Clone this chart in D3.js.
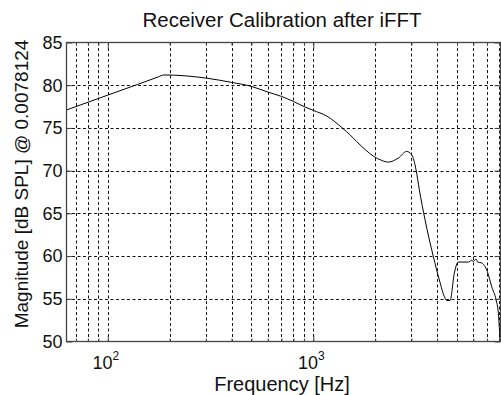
<!DOCTYPE html>
<html>
<head>
<meta charset="utf-8">
<script src="https://cdn.jsdelivr.net/npm/d3@7"></script>
<style>
  html, body { margin: 0; padding: 0; background: #fff; }
  svg { display: block; font-family: "Liberation Sans", Arial, Helvetica, sans-serif; }
</style>
</head>
<body>
<svg id="chart" width="501" height="395"></svg>
<script>
// ---- data ----
const freqHz = [63, 100, 140, 175, 187.5, 300, 400, 500, 600, 700, 800, 910, 1000, 1160, 1390, 1507, 1626, 1800, 1958, 2150, 2317, 2592, 2845, 3010, 3160, 3278, 3494, 3835, 4102, 4371, 4456, 4624, 4852, 5070, 5673, 5894, 6000, 6185, 6300, 6592, 7020, 7375, 7739, 7943, 8137];
const magDb  = [77.1, 78.84, 80.1, 80.95, 81.2, 80.84, 80.33, 79.86, 79.2, 78.69, 78.1, 77.45, 77.05, 76.4, 74.95, 74.2, 73.4, 72.4, 71.7, 71.2, 71.0, 71.48, 72.25, 71.86, 70.1, 67.76, 64.25, 59.95, 57.2, 55.08, 54.8, 54.8, 58.0, 59.3, 59.3, 59.5, 59.37, 59.65, 59.3, 59.2, 58.2, 56.4, 54.9, 53.3, 49.0];
const yTicks = [50, 55, 60, 65, 70, 75, 80, 85];
const xMajorTicks = [100, 1000];
const xMinorTicks = [70, 80, 90, 200, 300, 400, 500, 600, 700, 800, 900, 2000, 3000, 4000, 5000, 6000, 7000, 8000];
const xTickExponents = ["2", "3"];
const xDomain = [63, 8137];
const yDomain = [50, 85];
const titleText = "Receiver Calibration after iFFT";
const xLabelText = "Frequency [Hz]";
const yLabelText = "Magnitude [dB SPL] @ 0.0078124";

// ---- layout ----
const L = 66.5, R = 500.5, T = 42.5, B = 341.5;
const svg = d3.select("#chart");
const x = d3.scaleLog().domain(xDomain).range([L, R]);
const y = d3.scaleLinear().domain(yDomain).range([B, T]);

// grid
const grid = svg.append("g").attr("stroke", "#111").attr("stroke-width", 1)
  .attr("stroke-dasharray", "3,2.5").attr("fill", "none");
xMajorTicks.concat(xMinorTicks).forEach(v => {
  const px = Math.round(x(v)) + 0.5;
  grid.append("line").attr("x1", px).attr("x2", px).attr("y1", T).attr("y2", B);
});
yTicks.slice(1, -1).forEach(v => {
  const py = Math.round(y(v)) + 0.5;
  grid.append("line").attr("x1", L).attr("x2", R).attr("y1", py).attr("y2", py);
});

// curve
svg.append("defs").append("clipPath").attr("id", "clip")
  .append("rect").attr("x", L).attr("y", T).attr("width", R - L).attr("height", B - T);
const line = d3.line().x((d, i) => x(freqHz[i])).y(d => y(d)).curve(d3.curveMonotoneX);
svg.append("path").datum(magDb).attr("d", line).attr("clip-path", "url(#clip)")
  .attr("fill", "none").attr("stroke", "#000").attr("stroke-width", 1);

// axes box + ticks
const axisColor = "#444";
const bx = d3.axisBottom(x).tickValues(xMajorTicks).tickSize(-6).tickFormat("");
const bxm = d3.axisBottom(x).tickValues(xMinorTicks).tickSize(-3).tickFormat("");
const tx = d3.axisTop(x).tickValues(xMajorTicks).tickSize(-6).tickFormat("");
const txm = d3.axisTop(x).tickValues(xMinorTicks).tickSize(-3).tickFormat("");
const ly = d3.axisLeft(y).tickValues(yTicks).tickSize(-6).tickFormat("");
const ry = d3.axisRight(y).tickValues(yTicks).tickSize(-6).tickFormat("");
[[bx, `translate(0,${B})`], [bxm, `translate(0,${B})`], [tx, `translate(0,${T})`], [txm, `translate(0,${T})`],
 [ly, `translate(${L},0)`], [ry, `translate(${R},0)`]].forEach(([ax, tr]) => {
  const g = svg.append("g").attr("transform", tr).call(ax);
  g.select(".domain").remove();
  g.selectAll("line").attr("stroke", axisColor);
});
svg.append("rect").attr("x", L).attr("y", T).attr("width", R - L).attr("height", B - T)
  .attr("fill", "none").attr("stroke", axisColor).attr("stroke-width", 1.3);

// y tick labels
svg.append("g").selectAll("text").data(yTicks).join("text")
  .attr("x", L - 4).attr("y", d => y(d)).attr("dy", "0.35em")
  .attr("text-anchor", "end").attr("font-size", 18).attr("fill", "#111")
  .text(d => d);

// x tick labels (10^n)
const xl = svg.append("g").selectAll("text").data(xMajorTicks).join("text")
  .attr("x", d => x(d) - 2).attr("y", 369)
  .attr("text-anchor", "middle").attr("font-size", 18).attr("fill", "#111");
xl.append("tspan").text("10");
xl.append("tspan").attr("dy", -9).attr("font-size", 12).text((d, i) => xTickExponents[i]);

// title and labels
svg.append("text").attr("x", 282).attr("y", 27).attr("text-anchor", "middle")
  .attr("font-size", 20.5).attr("fill", "#111").text(titleText);
svg.append("text").attr("x", 282).attr("y", 391).attr("text-anchor", "middle")
  .attr("font-size", 20).attr("fill", "#111").text(xLabelText);
svg.append("text").attr("transform", "translate(28,184) rotate(-90)").attr("text-anchor", "middle")
  .attr("font-size", 19).attr("fill", "#111").text(yLabelText);
</script>
</body>
</html>
